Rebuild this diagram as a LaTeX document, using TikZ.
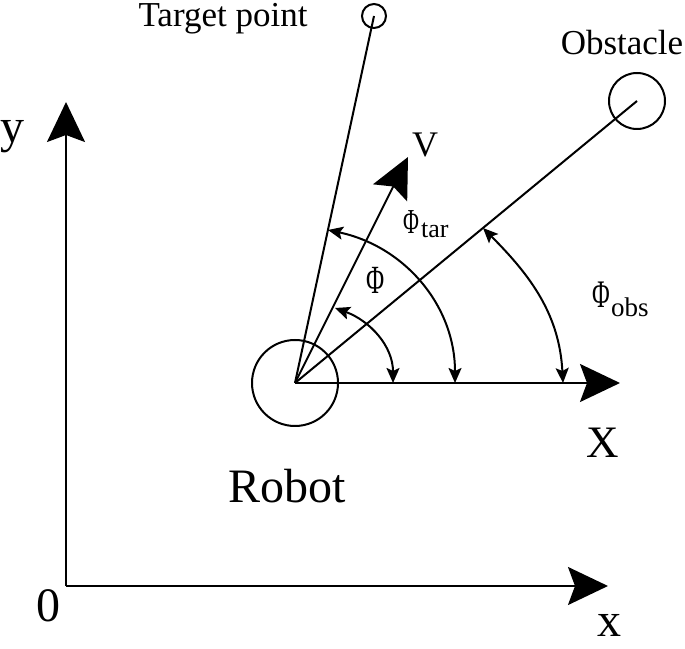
\documentclass[tikz,border=0pt]{standalone}
\usepackage{fontspec}
\usepackage{graphicx}
\setmainfont{Liberation Serif}
\usetikzlibrary{arrows.meta}
\newcommand\phisym{\scalebox{0.62}[1]{Φ}}
\newcommand\fs[1]{\fontsize{#1}{#1}\selectfont}
\begin{document}
\begin{tikzpicture}[x=1pt,y=1pt,
  ln/.style={line width=2pt},
  bigarrow/.style={ln,-{Stealth[length=40pt,width=38pt,inset=7pt]}},
  arcarrow/.style={ln,{Stealth[length=15pt,width=13pt,inset=3pt]}-{Stealth[length=15pt,width=13pt,inset=3pt]}},
  ring/.style={circle,draw,line width=2pt,inner sep=0pt},
  lbl/.style={inner sep=0pt,anchor=base}]
\useasboundingbox (0,0) rectangle (685,648);
% axes
\coordinate (orig) at (66,62);
\coordinate (ytip) at (66,546);
\coordinate (xtip) at (608,62);
\draw[bigarrow] (orig) -- (ytip);
\draw[bigarrow] (orig) -- (xtip);
% robot, target, obstacle
\node[ring,minimum size=86pt] (robot) at (295,265) {};
\node[ring,minimum size=24pt] (target) at (374,632) {};
\node[ring,minimum size=56pt] (obst) at (637,547) {};
\coordinate (Xtip) at (620,265);
\coordinate (Vtip) at (408,491);
\draw[ln] (robot.center) -- (target.center);
\draw[ln] (robot.center) -- (obst.center);
\draw[bigarrow] (robot.center) -- (Xtip);
\draw[bigarrow] (robot.center) -- (Vtip);
% angle arcs
\coordinate (a1s) at (393,265);
\coordinate (a1e) at (335,340);
\coordinate (a2s) at (455,265);
\coordinate (a2e) at (328,418);
\coordinate (a3s) at (563,265);
\coordinate (a3e) at (483,420);
\draw[arcarrow] (a1s) to[out=90,in=-20] (a1e);
\draw[arcarrow] (a2s) to[out=90,in=-12] (a2e);
\draw[arcarrow] (a3s) to[out=93,in=-45] (a3e);
% labels
\node[lbl] (ltarget) at (223,621) {\fs{35}Target point};
\node[lbl] (lobst) at (622,593) {\fs{35}Obstacle};
\node[lbl] (ly) at (12,505) {\fs{48}y};
\node[lbl] (l0) at (48,27) {\fs{48}0};
\node[lbl] (lx) at (609,12) {\fs{48}x};
\node[lbl] (lX) at (603,190) {\fs{45}X};
\node[lbl] (lrobot) at (287,146) {\fs{48}Robot};
\node[inner sep=0pt] (lV) at (425,503) {\fs{36}V};
\node[inner sep=0pt] (lphi) at (376,368) {\fs{40}\phisym};
\node[inner sep=0pt] (lphitar) at (411,426) {\fs{35}\phisym};
\node[lbl,anchor=base west] (ltar) at (421,410) {\fs{26}tar};
\node[inner sep=0pt] (lphiobs) at (601,353) {\fs{39}\phisym};
\node[lbl,anchor=base west] (lobs) at (611,331) {\fs{27}obs};
\end{tikzpicture}
\end{document}
